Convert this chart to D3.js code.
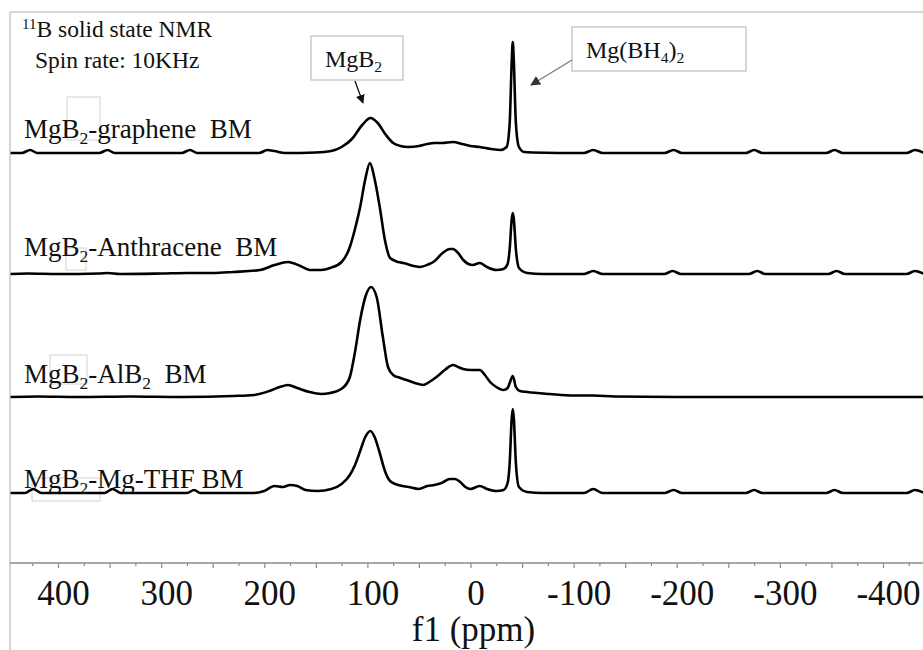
<!DOCTYPE html>
<html>
<head>
<meta charset="utf-8">
<script src="https://cdn.jsdelivr.net/npm/d3@7/dist/d3.min.js"></script>
<style>
  html, body { margin: 0; padding: 0; background: #fff; }
  svg { display: block; }
  text { font-family: "Liberation Serif", "Times New Roman", serif; fill: #111; white-space: pre; }
</style>
</head>
<body>
<svg id="chart" width="923" height="650"></svg>
<script>
// ---------- DATA (ppm, intensity above each trace's own baseline) ----------
const seriesNames = ["MgB2-graphene", "MgB2-Anthracene", "MgB2-AlB2", "MgB2-Mg-THF"];
const xTicksMajor = [400, 300, 200, 100, 0, -100, -200, -300, -400];
const xTicksMid = [350, 250, 150, 50, -50, -150, -250, -350];
const xTicksMinor = [425, 375, 325, 275, 225, 175, 125, 75, 25, -25, -75, -125, -175, -225, -275, -325, -375, -425];
const xTickLabels = ["400", "300", "200", "100", "0", "-100", "-200", "-300", "-400"];
const stackOffsets = [410, 289, 166, 70];

const graphene = [
  [446,0],[435,0],[427,3],[420,0],[360,0],[352,3],[345,0],[280,0],[272,3],[265,0],
  [205,0],[197,3],[190,2],[180,0],[150,0.5],[135,2],[125,6],[115,14],[105,28],[97,35],
  [90,30],[82,18],[75,10],[68,7],[60,6],[50,7],[42,9],[35,10],[28,10],[17,11],[8,9],
  [0,7],[-9,6],[-20,4],[-29,3],[-35,6],[-38,30],[-40,92],[-41,111],[-42,92],[-44,30],
  [-47,6],[-52,1],[-60,0.5],[-110,0],[-119,3],[-128,0],[-188,0],[-197,3],[-205,0],
  [-267,0],[-275,3],[-283,0],[-345,0],[-353,3],[-361,0],[-423,0],[-431,3],[-440,0]
];
const anthracene = [
  [446,0],[430,0.5],[400,0],[360,0.5],[352,1],[340,0],[300,0.5],[274,1],[250,1],[230,2],
  [204,4],[190,9],[177,12],[165,8],[156,4],[145,4],[136,6],[125,12],[117,27],[112,45],
  [107,67],[102,95],[97.5,111],[93,95],[88,67],[83,34],[78,16],[70,12],[65,11],[55,8],
  [49,7],[40,10],[36,12],[27,21],[20,25],[17,25],[12,21],[7,14],[2,10],[-2,9],[-9,11],
  [-16,7],[-25,4],[-32,5],[-36,10],[-38,25],[-40,55],[-41,61],[-42,55],[-44,25],[-47,6],
  [-55,1],[-70,0],[-110,0],[-119,3],[-128,0],[-188,0],[-196,3],[-204,0],[-270,0],[-278,3],
  [-286,0],[-347,0],[-355,3],[-363,0],[-423,0],[-431,3],[-440,0]
];
const alb2 = [
  [446,0],[420,0.5],[380,0],[330,0.5],[280,0],[230,1],[210,2],[195,6],[185,10],[177,12],
  [168,9],[156,5],[145,3],[136,4],[124,9],[117,20],[112,45],[107,77],[102,100],[96.5,110],
  [91,100],[85,60],[80,30],[75,22],[68,19],[62,17],[54,14],[46,12],[40,15],[33,20],
  [25,27],[17,32],[12,30],[7,28],[0,27],[-9,27],[-14,22],[-19,15],[-25,10],[-32,7],
  [-36,9],[-38,14],[-41,21],[-44,10],[-48,6],[-55,5],[-77,3],[-100,1.5],[-119,1.5],
  [-140,0.5],[-200,0],[-260,0],[-300,0],[-360,0],[-440,0]
];
const mgthf = [
  [446,0],[432,0],[424,4],[416,0],[355,0],[347,4],[339,0],[275,0],[268,3],[262,0],
  [210,0],[200,2],[190,7],[182,6],[175,8],[168,7],[160,3],[148,2],[135,4],[125,9],
  [117,18],[112,28],[107,42],[102,56],[97,62],[93,56],[88,40],[83,22],[78,12],[70,8],
  [60,6],[50,4],[42,7],[35,8],[28,10],[20,14],[15,14],[10,11],[5,6],[0,4],[-9,7],
  [-16,4],[-25,2],[-32,3],[-36,10],[-38,30],[-40,75],[-41,84],[-42,75],[-44,30],[-47,6],
  [-55,1],[-70,0],[-110,0],[-119,4],[-128,0],[-188,0],[-197,3],[-205,0],[-267,0],
  [-275,3],[-283,0],[-345,0],[-353,3],[-361,0],[-423,0],[-431,3],[-440,0]
];
const seriesValues = [graphene, anthracene, alb2, mgthf];

// ---------- LAYOUT ----------
const FONT = "'Liberation Serif', 'Times New Roman', serif";
const svg = d3.select("#chart");
const W = 923, H = 650;
const plotLeft = 10, plotRight = 923, plotTop = 12, axisY = 563;

const x = d3.scaleLinear().domain([400, -400]).range([58, 883]);
const y = d3.scaleLinear().domain([0, 550]).range([axisY, axisY - 550]);

const defs = svg.append("defs");
defs.append("clipPath").attr("id", "clip")
  .append("rect").attr("x", plotLeft).attr("y", plotTop).attr("width", plotRight - plotLeft).attr("height", axisY - plotTop);

// frame lines
svg.append("line").attr("x1", plotLeft).attr("x2", W).attr("y1", plotTop).attr("y2", plotTop)
  .attr("stroke", "#c8c8c8").attr("stroke-width", 1.5);
svg.append("line").attr("x1", plotLeft).attr("x2", plotLeft).attr("y1", plotTop).attr("y2", H)
  .attr("stroke", "#c8c8c8").attr("stroke-width", 1.5);

// faint empty text boxes (artifacts in reference)
const ghostBoxes = [[67, 97, 33, 43], [66, 248, 20, 22], [50, 355, 37, 29], [32, 478, 68, 23]];
ghostBoxes.forEach(b => svg.append("rect").attr("x", b[0]).attr("y", b[1]).attr("width", b[2]).attr("height", b[3])
  .attr("fill", "none").attr("stroke", "#d2d2d2").attr("stroke-width", 1));

// spectra
const line = d3.line().x(d => x(d[0])).curve(d3.curveMonotoneX);
const g = svg.append("g").attr("clip-path", "url(#clip)");
seriesValues.forEach((vals, i) => {
  g.append("path")
    .datum(vals)
    .attr("fill", "none")
    .attr("stroke", "#000")
    .attr("stroke-width", 2.6)
    .attr("stroke-linejoin", "round")
    .attr("d", line.y(d => y(d[1] + stackOffsets[i])));
});

// x axis
const axisG = svg.append("g").attr("transform", `translate(0,${axisY})`);
axisG.append("line").attr("x1", plotLeft).attr("x2", W).attr("y1", 0).attr("y2", 0)
  .attr("stroke", "#8a8a8a").attr("stroke-width", 1.5);
const majorAxis = d3.axisBottom(x).tickValues(xTicksMajor.concat(xTicksMid)).tickSize(5).tickFormat("");
const minorAxis = d3.axisBottom(x).tickValues(xTicksMinor).tickSize(3).tickFormat("");
[majorAxis, minorAxis].forEach(ax => {
  const a = axisG.append("g").call(ax);
  a.select(".domain").remove();
  a.selectAll("line").attr("stroke", "#8a8a8a").attr("stroke-width", 1.2);
});
axisG.selectAll(".tlabel").data(xTicksMajor).join("text")
  .attr("class", "tlabel")
  .attr("x", d => x(d) + 5.5)
  .attr("y", 605 - axisY)
  .attr("text-anchor", "middle")
  .attr("font-family", FONT)
  .attr("font-size", 35)
  .text((d, i) => xTickLabels[i]);
svg.append("text").attr("x", x(0) + 3).attr("y", 641).attr("text-anchor", "middle")
  .attr("font-family", FONT).attr("font-size", 35).text("f1 (ppm)");

// header text
const hdr = svg.append("text").attr("x", 22).attr("y", 37).attr("font-size", 23.5).attr("font-family", FONT);
hdr.append("tspan").attr("font-size", 15).attr("dy", -8).text("11");
hdr.append("tspan").attr("dy", 8).text("B solid state NMR");
svg.append("text").attr("x", 35).attr("y", 68).attr("font-size", 23.5).attr("font-family", FONT).text("Spin rate: 10KHz");

// labels with subscripts
function chemLabel(parts, xx, yy, size) {
  const t = svg.append("text").attr("x", xx).attr("y", yy).attr("font-size", size).attr("font-family", FONT);
  const shift = size * 0.22;
  let lowered = false;
  parts.forEach(p => {
    const ts = t.append("tspan").text(p.s);
    if (p.sub) {
      ts.attr("font-size", size * 0.65);
      if (!lowered) { ts.attr("dy", shift); lowered = true; }
    } else if (lowered) {
      ts.attr("dy", -shift); lowered = false;
    }
  });
  return t;
}
const labelParts = [
  [{s: "MgB"}, {s: "2", sub: true}, {s: "-graphene  BM"}],
  [{s: "MgB"}, {s: "2", sub: true}, {s: "-Anthracene  BM"}],
  [{s: "MgB"}, {s: "2", sub: true}, {s: "-AlB"}, {s: "2", sub: true}, {s: "  BM"}],
  [{s: "MgB"}, {s: "2", sub: true}, {s: "-Mg-THF BM"}]
];
const labelBase = [138, 256, 383, 488];
labelParts.forEach((p, i) => chemLabel(p, 24, labelBase[i], 27));

// annotation boxes
svg.append("rect").attr("x", 311).attr("y", 36).attr("width", 92).attr("height", 44)
  .attr("fill", "#fff").attr("stroke", "#bdbdbd").attr("stroke-width", 1.2);
chemLabel([{s: "MgB"}, {s: "2", sub: true}], 325, 67, 24);
svg.append("rect").attr("x", 572).attr("y", 27).attr("width", 174).attr("height", 44)
  .attr("fill", "#fff").attr("stroke", "#bdbdbd").attr("stroke-width", 1.2);
chemLabel([{s: "Mg(BH"}, {s: "4", sub: true}, {s: ")"}, {s: "2", sub: true}], 586, 58, 24);

// arrows
defs.append("marker").attr("id", "ahBlack").attr("viewBox", "0 0 10 10").attr("refX", 9).attr("refY", 5)
  .attr("markerWidth", 9).attr("markerHeight", 9).attr("markerUnits", "userSpaceOnUse").attr("orient", "auto")
  .append("path").attr("d", "M0,0 L10,5 L0,10 z").attr("fill", "#111");
defs.append("marker").attr("id", "ahGray").attr("viewBox", "0 0 10 10").attr("refX", 9).attr("refY", 5)
  .attr("markerWidth", 10).attr("markerHeight", 10).attr("markerUnits", "userSpaceOnUse").attr("orient", "auto")
  .append("path").attr("d", "M0,0 L10,5 L0,10 z").attr("fill", "#333");
svg.append("line").attr("x1", 355).attr("y1", 81).attr("x2", 363).attr("y2", 103)
  .attr("stroke", "#111").attr("stroke-width", 1.3).attr("marker-end", "url(#ahBlack)");
svg.append("line").attr("x1", 572).attr("y1", 60).attr("x2", 531).attr("y2", 85)
  .attr("stroke", "#777").attr("stroke-width", 1.2).attr("marker-end", "url(#ahGray)");
</script>
</body>
</html>
